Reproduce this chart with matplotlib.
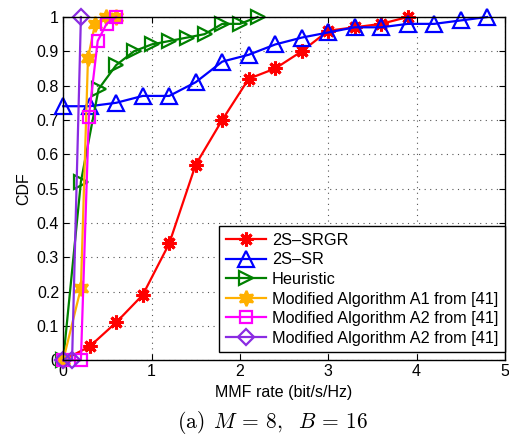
import matplotlib
matplotlib.use("Agg")
import matplotlib.pyplot as plt
import numpy as np

plt.rcParams['font.family'] = ['Liberation Sans', 'DejaVu Sans']
plt.rcParams['mathtext.fontset'] = 'cm'

# Data
srgr_x = [0, 0.3, 0.6, 0.9, 1.2, 1.5, 1.8, 2.1, 2.4, 2.7, 3.0, 3.3, 3.6, 3.9]
srgr_y = [0, 0.04, 0.11, 0.19, 0.34, 0.57, 0.70, 0.82, 0.85, 0.90, 0.96, 0.97, 0.98, 1.0]

sr_x = [0, 0.3, 0.6, 0.9, 1.2, 1.5, 1.8, 2.1, 2.4, 2.7, 3.0, 3.3, 3.6, 3.9, 4.2, 4.5, 4.8]
sr_y = [0.74, 0.74, 0.75, 0.77, 0.77, 0.81, 0.87, 0.89, 0.92, 0.94, 0.955, 0.97, 0.97, 0.98, 0.98, 0.99, 1.0]

heur_x = [0, 0.2, 0.4, 0.6, 0.8, 1.0, 1.2, 1.4, 1.6, 1.8, 2.0, 2.2]
heur_y = [0, 0.52, 0.79, 0.86, 0.90, 0.92, 0.93, 0.94, 0.95, 0.98, 0.98, 1.0]

a1_x = [0, 0.2, 0.28, 0.36, 0.48, 0.6]
a1_y = [0, 0.21, 0.88, 0.98, 1.0, 1.0]

a2_x = [0, 0.2, 0.29, 0.39, 0.49, 0.6]
a2_y = [0, 0, 0.71, 0.93, 0.98, 1.0]

a2b_x = [0, 0.1, 0.2]
a2b_y = [0, 0, 1.0]

labels = ['2S\u2013SRGR', '2S\u2013SR', 'Heuristic',
          'Modified Algorithm A1 from [41]',
          'Modified Algorithm A2 from [41]',
          'Modified Algorithm A2 from [41]']
x_ticks = [0, 1, 2, 3, 4, 5]
y_ticks = [0, 0.1, 0.2, 0.3, 0.4, 0.5, 0.6, 0.7, 0.8, 0.9, 1]
y_ticklabels = ['0', '0.1', '0.2', '0.3', '0.4', '0.5', '0.6', '0.7', '0.8', '0.9', '1']

fig = plt.figure(figsize=(5.10, 4.36), dpi=100)
ax = fig.add_axes([0.124, 0.174, 0.866, 0.787])

lw = 1.6
mew = 1.6
common = dict(lw=lw, clip_on=False, zorder=3)
ax.plot(srgr_x, srgr_y, color='#ff0000', marker=(8, 2, 0), ms=10, mew=2.2,
        label=labels[0], **common)
ax.plot(sr_x, sr_y, color='#0000ff', marker='^', ms=11, mew=mew, mfc='none',
        label=labels[1], **common)
ax.plot(heur_x, heur_y, color='#008000', marker='>', ms=10, mew=mew, mfc='none',
        label=labels[2], **common)
ax.plot(a1_x, a1_y, color='#ffb000', marker=(6, 1, 0), ms=11, mew=mew,
        label=labels[3], **common)
ax.plot(a2_x, a2_y, color='#ff00ff', marker='s', ms=9, mew=mew, mfc='none',
        label=labels[4], **common)
ax.plot(a2b_x, a2b_y, color='#8a2be2', marker='D', ms=8, mew=mew, mfc='none',
        label=labels[5], **common)

ax.set_xlim(0, 5)
ax.set_ylim(0, 1)
ax.set_xticks(x_ticks)
ax.set_yticks(y_ticks)
ax.set_yticklabels(y_ticklabels)
ax.tick_params(direction='in', top=True, right=True, labelsize=11.5, length=4, pad=3)
ax.grid(True, linestyle=(0, (1, 4)), color='#555555', linewidth=0.8)
for s in ax.spines.values():
    s.set_linewidth(1.0)
    s.set_zorder(4)

ax.set_xlabel('MMF rate (bit/s/Hz)', fontsize=11.5, labelpad=4)
ax.set_ylabel('CDF', fontsize=11.5, labelpad=4)

leg = ax.legend(loc='lower right', bbox_to_anchor=(1.0, 8 / 343.0),
                fontsize=11.7, frameon=True, fancybox=False,
                edgecolor='black', borderpad=0.4, labelspacing=0.28,
                handlelength=2.45, handletextpad=0.4, borderaxespad=0.0,
                framealpha=1)
leg.get_frame().set_linewidth(1.0)
leg.set_zorder(5)

fig.text(0.535, 0.03, r'$\mathrm{(a)}\ \,M\,=\,8,\ \ B\,=\,16$', ha='center', va='center',
         fontsize=15.5)

fig.savefig('out.png', dpi=100)
